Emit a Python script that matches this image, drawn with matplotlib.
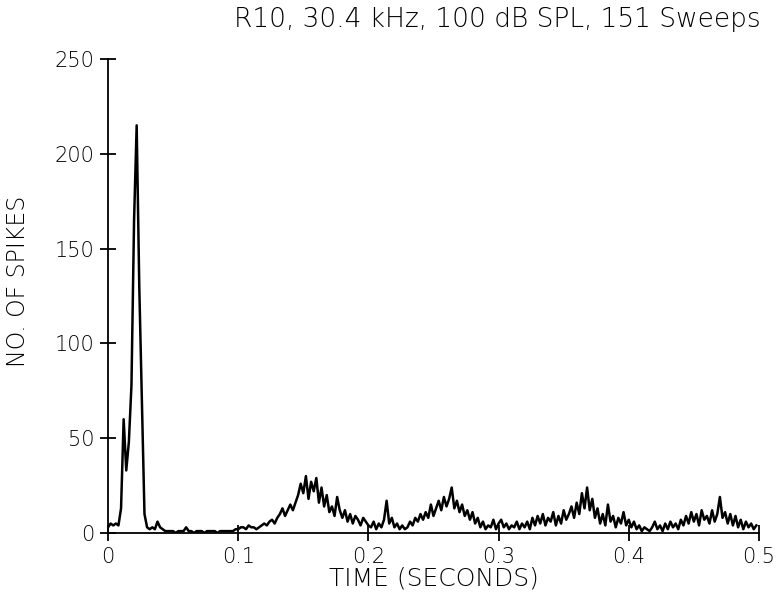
import matplotlib
matplotlib.use("Agg")
import matplotlib.pyplot as plt
import numpy as np

# PSTH counts, 2 ms bins from 0 to 0.498 s
bin_width = 0.002
counts = [
    3, 5, 4, 5, 4, 13, 60, 33, 48, 78,
    165, 215, 130, 70, 10, 3, 2, 3, 2, 6,
    3, 2, 1, 1, 1, 1, 0, 1, 1, 1,
    3, 1, 1, 0, 1, 1, 1, 0, 1, 1,
    1, 1, 0, 1, 1, 1, 1, 1, 1, 2,
    2, 3, 3, 2, 4, 3, 3, 2, 3, 4,
    5, 4, 6, 7, 5, 8, 10, 13, 9, 12,
    15, 12, 16, 20, 26, 21, 30, 18, 27, 22,
    29, 16, 24, 14, 20, 11, 14, 9, 19, 12,
    8, 12, 6, 10, 5, 9, 7, 4, 8, 6,
    4, 3, 6, 2, 5, 3, 7, 17, 5, 8,
    3, 5, 2, 4, 2, 3, 6, 4, 8, 6,
    10, 7, 11, 8, 15, 9, 13, 17, 12, 19,
    14, 18, 24, 13, 17, 11, 15, 9, 12, 7,
    11, 5, 8, 3, 6, 2, 4, 3, 7, 2,
    5, 7, 3, 5, 2, 4, 3, 6, 2, 5,
    3, 6, 2, 8, 4, 9, 5, 10, 4, 8,
    6, 11, 4, 9, 5, 12, 7, 10, 14, 8,
    16, 10, 21, 13, 24, 12, 18, 8, 13, 5,
    10, 4, 15, 6, 9, 3, 8, 5, 11, 4,
    7, 3, 6, 2, 4, 1, 3, 2, 1, 3,
    6, 2, 4, 1, 5, 2, 6, 3, 5, 2,
    7, 4, 9, 5, 11, 6, 10, 4, 12, 7,
    9, 5, 12, 6, 10, 19, 8, 11, 5, 10,
    4, 9, 3, 7, 2, 6, 3, 5, 2, 4,
]
times = np.arange(len(counts)) * bin_width

x_ticks = [0, 0.1, 0.2, 0.3, 0.4, 0.5]
x_labels = ['0', '0.1', '0.2', '0.3', '0.4', '0.5']
y_ticks = [0, 50, 100, 150, 200, 250]

plt.rcParams['font.family'] = 'DejaVu Sans'

fig = plt.figure(figsize=(7.8, 6.05), dpi=100)
ax = fig.add_axes([0.1385, 0.119, 0.8345, 0.7835])

ax.plot(times, counts, color='black', linewidth=1.8)

ax.set_xlim(0, 0.5)
ax.set_ylim(0, 250)
ax.set_xticks(x_ticks)
ax.set_xticklabels(x_labels)
ax.set_yticks(y_ticks)

for side in ['top', 'right']:
    ax.spines[side].set_visible(False)
for side in ['left', 'bottom']:
    ax.spines[side].set_linewidth(1.3)
ax.tick_params(direction='inout', length=12, width=1.3, labelsize=15, pad=4)

ax.set_xlabel('TIME (SECONDS)', fontsize=18, fontweight='light', labelpad=0)
ax.set_ylabel('NO. OF SPIKES', fontsize=17, fontweight='light')
ax.yaxis.set_label_coords(-0.12, 0.53)
for lab in ax.get_xticklabels() + ax.get_yticklabels():
    lab.set_fontweight('light')

fig.text(0.637, 0.968, 'R10, 30.4 kHz, 100 dB SPL, 151 Sweeps',
         ha='center', va='center', fontsize=19, fontweight='light')

fig.savefig('out.png', dpi=100)
